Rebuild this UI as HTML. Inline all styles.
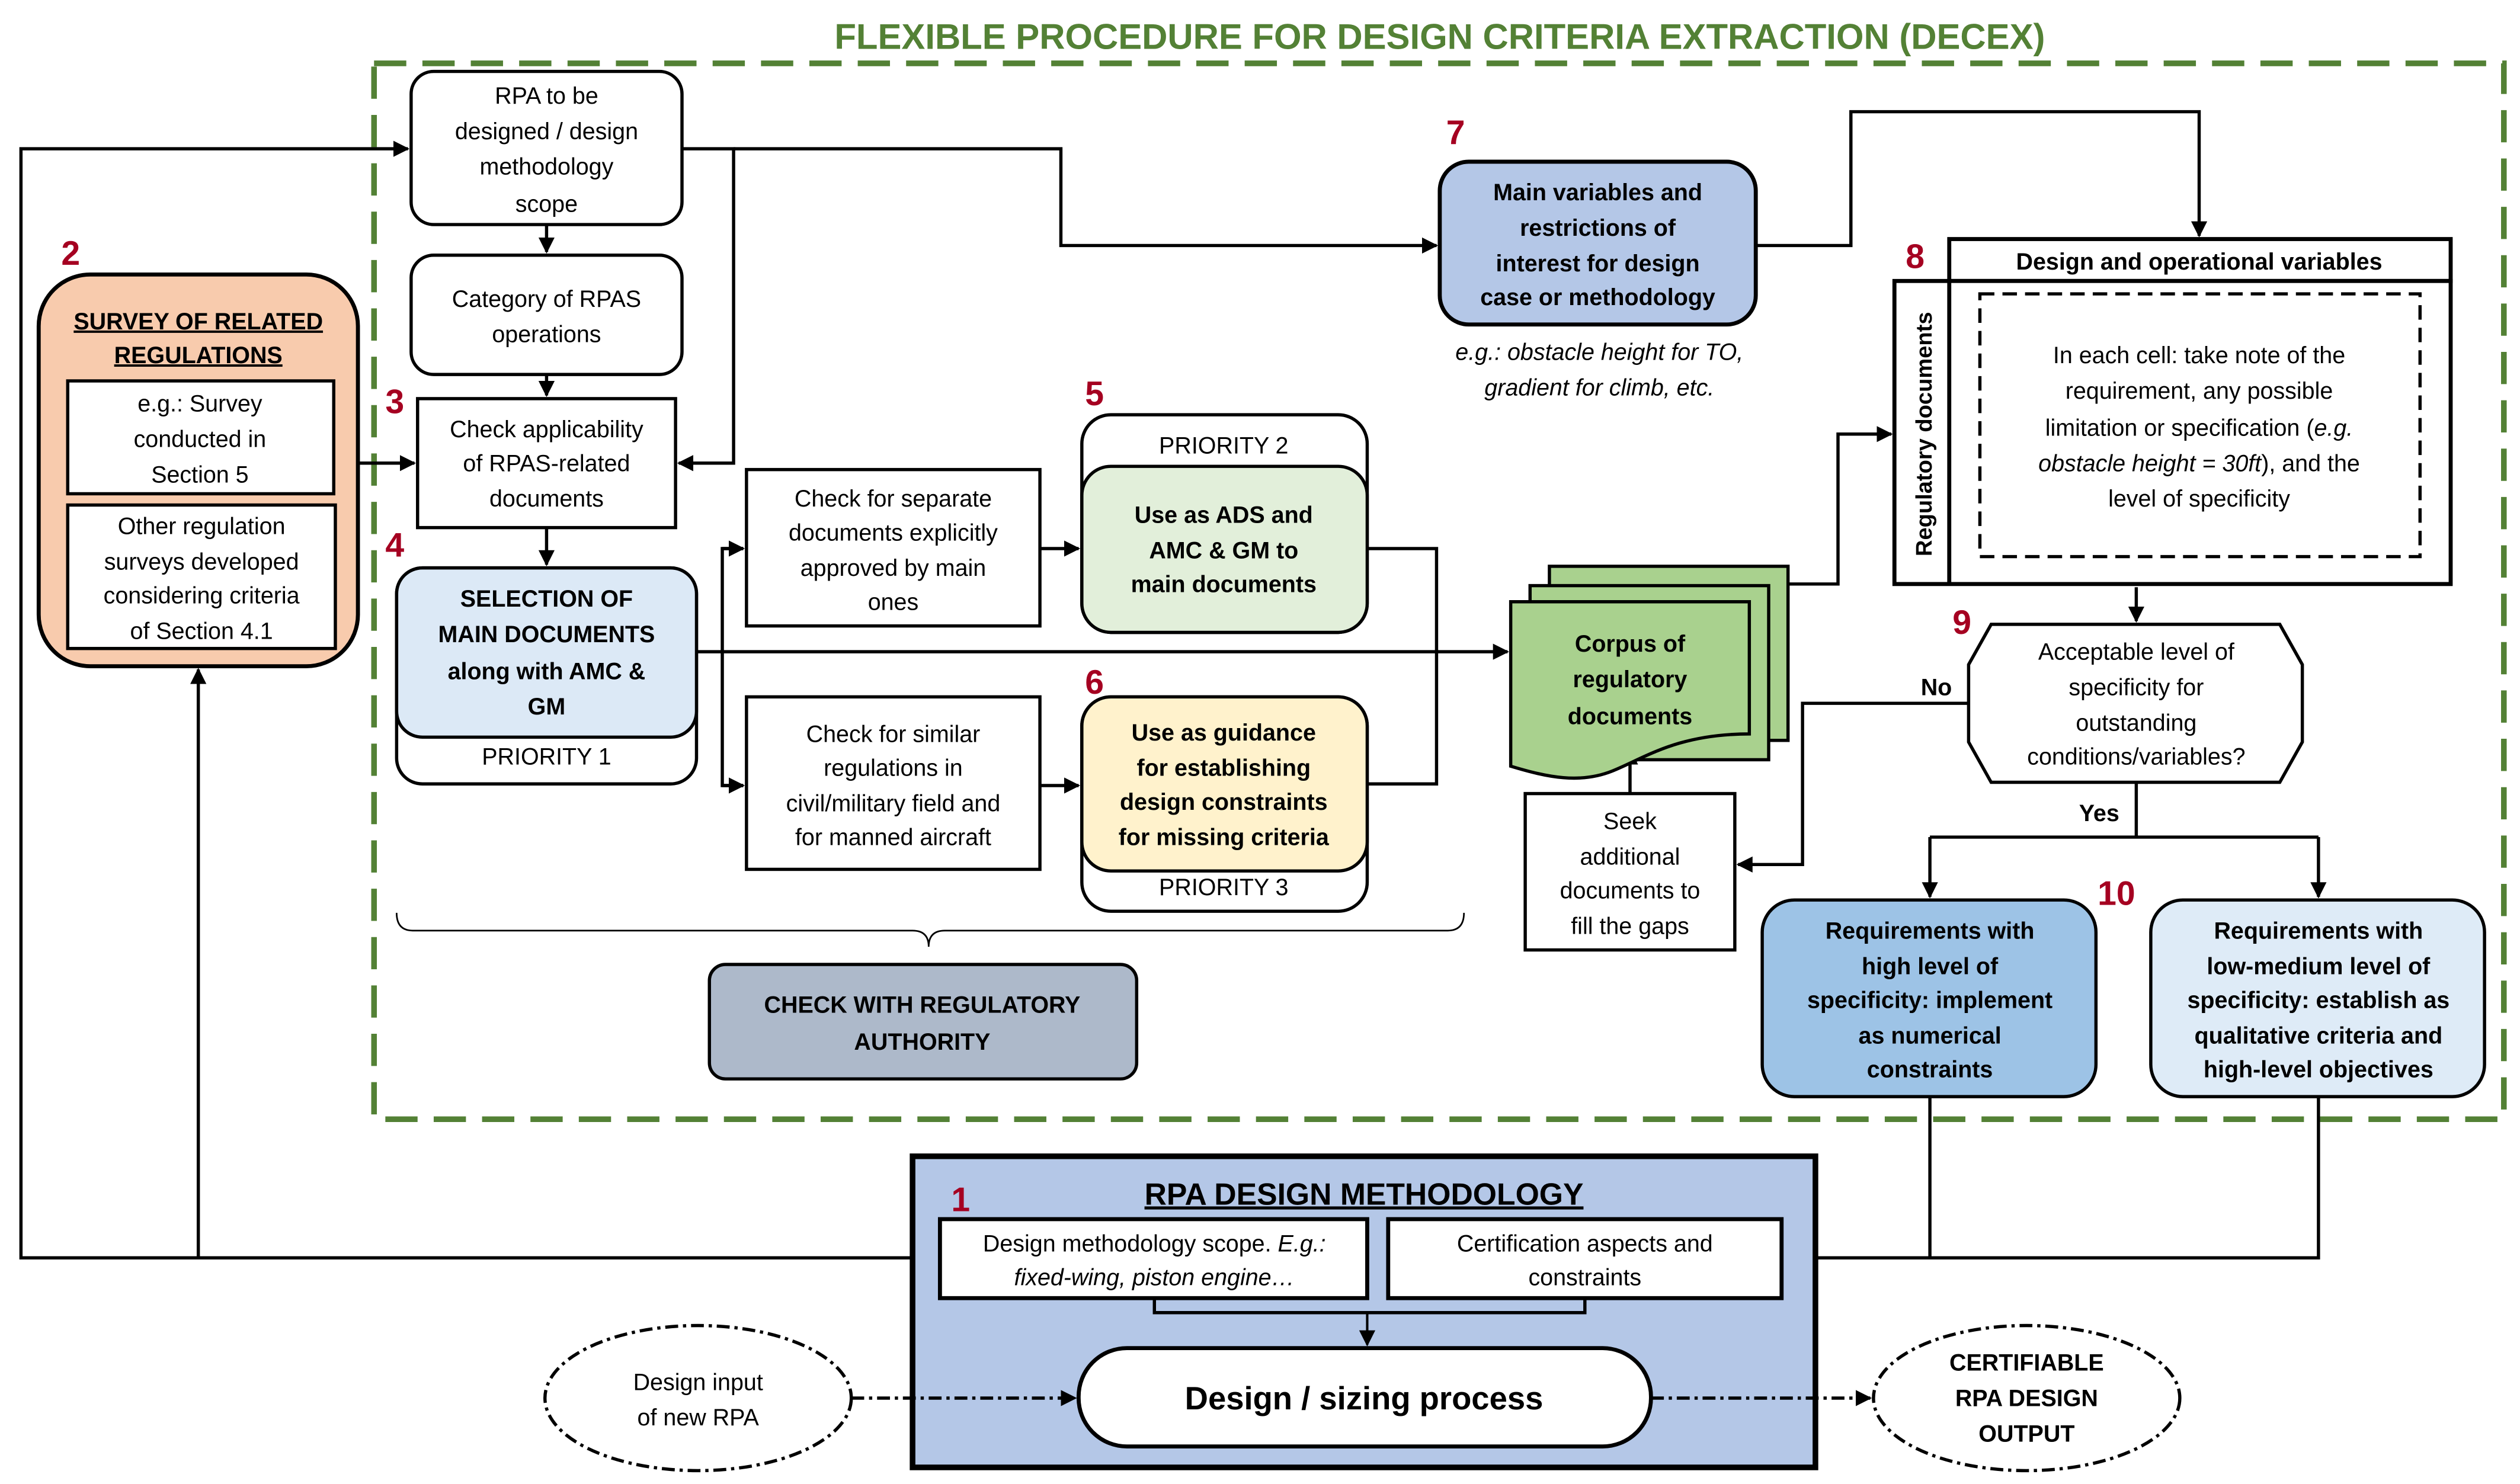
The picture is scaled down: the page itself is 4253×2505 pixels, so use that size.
<!DOCTYPE html>
<html><head><meta charset="utf-8"><style>
html,body{margin:0;padding:0;background:#fff;}
svg{display:block;}
text{font-family:"Liberation Sans",sans-serif;font-size:14.5px;fill:#000;text-anchor:middle;}
.b{font-weight:bold;}
.n{font-weight:bold;font-size:21px;fill:#a50021;text-anchor:start;}
.i{font-style:italic;}
</style></head><body>
<svg width="4253" height="2505" viewBox="0 0 1563 920" xmlns="http://www.w3.org/2000/svg">
<defs>
<marker id="a" markerWidth="10" markerHeight="10" refX="9" refY="5" orient="auto" markerUnits="userSpaceOnUse"><path d="M0,0 L10,5 L0,10 z" fill="#000"/></marker>
</defs>
<rect width="1563" height="920" fill="#fff"/>
<text x="893" y="30" class="b" style="font-size:22px;fill:#538135">FLEXIBLE PROCEDURE FOR DESIGN CRITERIA EXTRACTION (DECEX)</text>
<rect x="232" y="39" width="1321" height="655" fill="none" stroke="#538135" stroke-width="3.5" stroke-dasharray="20,10"/>

<g fill="none" stroke="#000" stroke-width="2">
<!-- outer loop -->
<polyline points="566,780 13,780 13,92 253,92" marker-end="url(#a)"/>
<polyline points="123,780 123,415" marker-end="url(#a)"/>
<polyline points="222,287 257,287" marker-end="url(#a)"/>
<polyline points="423,92 455,92 455,287 421,287" marker-end="url(#a)"/>
<polyline points="455,92 658,92 658,152 891,152" marker-end="url(#a)"/>
<polyline points="339,139 339,156" marker-end="url(#a)"/>
<polyline points="339,232 339,245" marker-end="url(#a)"/>
<polyline points="339,327 339,350" marker-end="url(#a)"/>
<polyline points="432,404 935,404" marker-end="url(#a)"/>
<polyline points="461,340 448,340 448,487 461,487" />
<polyline points="448,340 461,340" marker-end="url(#a)"/>
<polyline points="448,487 461,487" marker-end="url(#a)"/>
<polyline points="645,340 669,340" marker-end="url(#a)"/>
<polyline points="645,487 669,487" marker-end="url(#a)"/>
<polyline points="848,340 891,340 891,486 848,486"/>
<polyline points="1109,362 1140,362 1140,269 1173,269" marker-end="url(#a)"/>
<polyline points="1089,152 1148,152 1148,69 1364,69 1364,146" marker-end="url(#a)"/>
<polyline points="1325,364 1325,385" marker-end="url(#a)"/>
<polyline points="1221,436 1118,436 1118,536 1078,536" marker-end="url(#a)"/>
<polyline points="1011,492 1011,465" marker-end="url(#a)"/>
<polyline points="1325,485 1325,519"/>
<polyline points="1197,519 1438,519"/>
<polyline points="1197,519 1197,556" marker-end="url(#a)"/>
<polyline points="1438,519 1438,556" marker-end="url(#a)"/>
<polyline points="1197,680 1197,780"/>
<polyline points="1438,680 1438,780 1107,780" marker-end="url(#a)"/>
<!-- brace -->
<path d="M246,566 Q246,577 256,577 L566,577 Q576,577 576,587 Q576,577 586,577 L898,577 Q908,577 908,566" stroke-width="1"/>
</g>

<!-- survey -->
<rect x="24" y="170" width="198" height="243" rx="32" fill="#f8cbad" stroke="#000" stroke-width="2.5"/>
<text x="123" y="204" class="b" text-decoration="underline">SURVEY OF RELATED</text>
<text x="123" y="225" class="b" text-decoration="underline">REGULATIONS</text>
<rect x="42" y="236" width="165" height="70" fill="#fff" stroke="#000" stroke-width="2"/>
<text x="124" y="255">e.g.: Survey</text><text x="124" y="277">conducted in</text><text x="124" y="299">Section 5</text>
<rect x="42" y="313" width="166" height="89" fill="#fff" stroke="#000" stroke-width="2"/>
<text x="125" y="331">Other regulation</text><text x="125" y="353">surveys developed</text><text x="125" y="374">considering criteria</text><text x="125" y="396">of Section 4.1</text>

<!-- RPA to be designed -->
<rect x="255" y="44" width="168" height="95" rx="14" fill="#fff" stroke="#000" stroke-width="2"/>
<text x="339" y="64">RPA to be</text><text x="339" y="86">designed / design</text><text x="339" y="108">methodology</text><text x="339" y="131">scope</text>
<rect x="255" y="158" width="168" height="74" rx="14" fill="#fff" stroke="#000" stroke-width="2"/>
<text x="339" y="190">Category of RPAS</text><text x="339" y="212">operations</text>
<rect x="259" y="247" width="160" height="80" fill="#fff" stroke="#000" stroke-width="2"/>
<text x="339" y="271">Check applicability</text><text x="339" y="292">of RPAS-related</text><text x="339" y="314">documents</text>

<!-- selection -->
<rect x="246" y="352" width="186" height="134" rx="16" fill="#fff" stroke="#000" stroke-width="2"/>
<rect x="246" y="352" width="186" height="105" rx="16" fill="#dce9f6" stroke="#000" stroke-width="2"/>
<text x="339" y="376" class="b">SELECTION OF</text><text x="339" y="398" class="b">MAIN DOCUMENTS</text><text x="339" y="421" class="b">along with AMC &amp;</text><text x="339" y="443" class="b">GM</text>
<text x="339" y="474">PRIORITY 1</text>

<rect x="463" y="291" width="182" height="97" fill="#fff" stroke="#000" stroke-width="2"/>
<text x="554" y="314">Check for separate</text><text x="554" y="335">documents explicitly</text><text x="554" y="357">approved by main</text><text x="554" y="378">ones</text>
<rect x="463" y="432" width="182" height="107" fill="#fff" stroke="#000" stroke-width="2"/>
<text x="554" y="460">Check for similar</text><text x="554" y="481">regulations in</text><text x="554" y="503">civil/military field and</text><text x="554" y="524">for manned aircraft</text>

<rect x="671" y="257" width="177" height="135" rx="18" fill="#fff" stroke="#000" stroke-width="2"/>
<text x="759" y="281">PRIORITY 2</text>
<rect x="671" y="289" width="177" height="103" rx="18" fill="#e2efda" stroke="#000" stroke-width="2"/>
<text x="759" y="324" class="b">Use as ADS and</text><text x="759" y="346" class="b">AMC &amp; GM to</text><text x="759" y="367" class="b">main documents</text>

<rect x="671" y="432" width="177" height="133" rx="18" fill="#fff" stroke="#000" stroke-width="2"/>
<rect x="671" y="432" width="177" height="108" rx="18" fill="#fff2cc" stroke="#000" stroke-width="2"/>
<text x="759" y="459" class="b">Use as guidance</text><text x="759" y="481" class="b">for establishing</text><text x="759" y="502" class="b">design constraints</text><text x="759" y="524" class="b">for missing criteria</text>
<text x="759" y="555">PRIORITY 3</text>

<rect x="440" y="598" width="265" height="71" rx="10" fill="#adb9ca" stroke="#000" stroke-width="2"/>
<text x="572" y="628" class="b">CHECK WITH REGULATORY</text><text x="572" y="651" class="b">AUTHORITY</text>

<!-- 7 -->
<rect x="893" y="100" width="196" height="101" rx="18" fill="#b4c7e7" stroke="#000" stroke-width="2.5"/>
<text x="991" y="124" class="b">Main variables and</text><text x="991" y="146" class="b">restrictions of</text><text x="991" y="168" class="b">interest for design</text><text x="991" y="189" class="b">case or methodology</text>
<text x="992" y="223" class="i">e.g.: obstacle height for TO,</text><text x="992" y="245" class="i">gradient for climb, etc.</text>

<!-- corpus -->
<rect x="961" y="351" width="148" height="108" fill="#a9d18e" stroke="#000" stroke-width="2"/>
<rect x="949" y="363" width="148" height="108" fill="#a9d18e" stroke="#000" stroke-width="2"/>
<path d="M937,373 L1085,373 L1085,455 C1040,455 1020,470 1000,478 C980,486 960,482 937,475 Z" fill="#a9d18e" stroke="#000" stroke-width="2"/>
<text x="1011" y="404" class="b">Corpus of</text><text x="1011" y="426" class="b">regulatory</text><text x="1011" y="449" class="b">documents</text>

<rect x="946" y="492" width="130" height="97" fill="#fff" stroke="#000" stroke-width="2"/>
<text x="1011" y="514">Seek</text><text x="1011" y="536">additional</text><text x="1011" y="557">documents to</text><text x="1011" y="579">fill the gaps</text>

<!-- table 8 -->
<rect x="1209" y="148" width="311" height="26" fill="#fff" stroke="#000" stroke-width="2.5"/>
<text x="1364" y="167" class="b">Design and operational  variables</text>
<rect x="1175" y="174" width="345" height="188" fill="#fff" stroke="#000" stroke-width="2.5"/>
<line x1="1209" y1="174" x2="1209" y2="362" stroke="#000" stroke-width="2.5"/>
<text transform="translate(1198,269) rotate(-90)" class="b" style="font-size:14px">Regulatory  documents</text>
<rect x="1228" y="182" width="273" height="163" fill="none" stroke="#000" stroke-width="2" stroke-dasharray="9,5"/>
<text x="1364" y="225">In each cell: take note of the</text><text x="1364" y="247">requirement, any possible</text><text x="1364" y="270">limitation or specification (<tspan class="i">e.g.</tspan></text><text x="1364" y="292"><tspan class="i">obstacle height = 30ft</tspan>), and the</text><text x="1364" y="314">level of specificity</text>

<!-- 9 -->
<polygon points="1235,387 1414,387 1428,412 1428,460 1414,485 1235,485 1221,460 1221,412" fill="#fff" stroke="#000" stroke-width="2"/>
<text x="1325" y="409">Acceptable level of</text><text x="1325" y="431">specificity for</text><text x="1325" y="453">outstanding</text><text x="1325" y="474">conditions/variables?</text>
<text x="1201" y="431" class="b">No</text>
<text x="1302" y="509" class="b">Yes</text>

<rect x="1093" y="558" width="207" height="122" rx="20" fill="#9dc3e6" stroke="#000" stroke-width="2"/>
<text x="1197" y="582" class="b">Requirements with</text><text x="1197" y="604" class="b">high level of</text><text x="1197" y="625" class="b">specificity: implement</text><text x="1197" y="647" class="b">as numerical</text><text x="1197" y="668" class="b">constraints</text>
<rect x="1334" y="558" width="207" height="122" rx="20" fill="#deebf7" stroke="#000" stroke-width="2"/>
<text x="1438" y="582" class="b">Requirements with</text><text x="1438" y="604" class="b">low-medium level of</text><text x="1438" y="625" class="b">specificity: establish as</text><text x="1438" y="647" class="b">qualitative criteria and</text><text x="1438" y="668" class="b">high-level objectives</text>

<!-- 1 -->
<rect x="566" y="717" width="560" height="193" fill="#b4c7e7" stroke="#000" stroke-width="3.5"/>
<text x="846" y="747" class="b" style="font-size:19px" text-decoration="underline">RPA DESIGN METHODOLOGY</text>
<rect x="583" y="756" width="265" height="49" fill="#fff" stroke="#000" stroke-width="2.5"/>
<text x="716" y="776">Design methodology scope. <tspan class="i">E.g.:</tspan></text><text x="716" y="797" class="i">fixed-wing, piston engine…</text>
<rect x="861" y="756" width="244" height="49" fill="#fff" stroke="#000" stroke-width="2.5"/>
<text x="983" y="776">Certification aspects and</text><text x="983" y="797">constraints</text>
<polyline points="716,805 716,814 983,814 983,805" fill="none" stroke="#000" stroke-width="2"/>
<polyline points="848,814 848,834" fill="none" stroke="#000" stroke-width="1.5" marker-end="url(#a)"/>
<rect x="669" y="836" width="355" height="61" rx="30" fill="#fff" stroke="#000" stroke-width="2.5"/>
<text x="846" y="874" class="b" style="font-size:20px">Design / sizing process</text>

<ellipse cx="433" cy="867" rx="95" ry="45" fill="#fff" stroke="#000" stroke-width="2" stroke-dasharray="8,3,2,3"/>
<text x="433" y="862">Design input</text><text x="433" y="884">of new RPA</text>
<ellipse cx="1257" cy="867" rx="95" ry="45" fill="#fff" stroke="#000" stroke-width="2" stroke-dasharray="8,3,2,3"/>
<text x="1257" y="850" class="b">CERTIFIABLE</text><text x="1257" y="872" class="b">RPA DESIGN</text><text x="1257" y="894" class="b">OUTPUT</text>
<line x1="528" y1="867" x2="667" y2="867" stroke="#000" stroke-width="2" stroke-dasharray="8,3,2,3" marker-end="url(#a)"/>
<line x1="1024" y1="867" x2="1160" y2="867" stroke="#000" stroke-width="2" stroke-dasharray="8,3,2,3" marker-end="url(#a)"/>

<!-- numbers -->
<text x="38" y="164" class="n">2</text>
<text x="239" y="256" class="n">3</text>
<text x="239" y="345" class="n">4</text>
<text x="673" y="251" class="n">5</text>
<text x="673" y="430" class="n">6</text>
<text x="897" y="89" class="n">7</text>
<text x="1182" y="166" class="n">8</text>
<text x="1211" y="393" class="n">9</text>
<text x="1301" y="561" class="n">10</text>
<text x="590" y="751" class="n">1</text>
</svg>
</body></html>
